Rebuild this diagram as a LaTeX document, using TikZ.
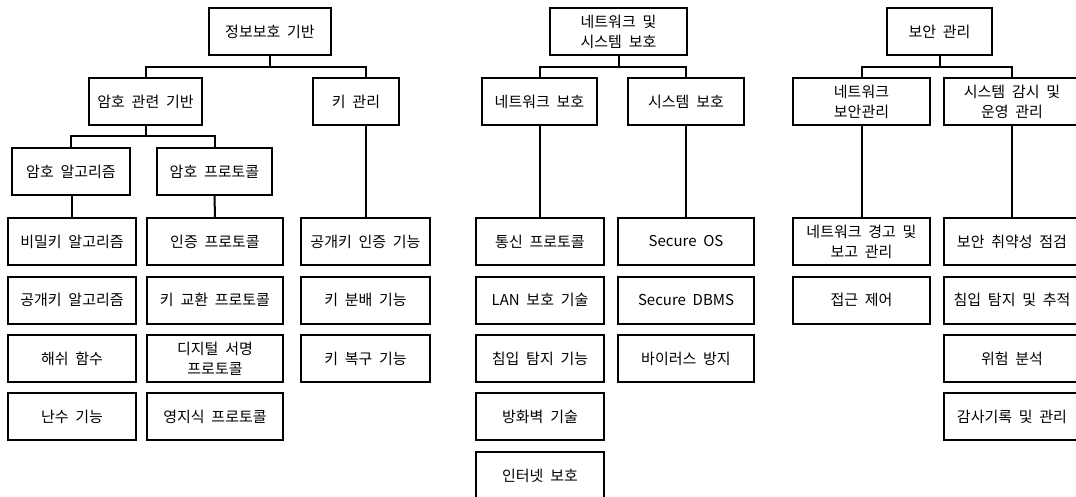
\documentclass[tikz,border=0pt]{standalone}
\usepackage{fontspec}
\setmainfont[WordSpace=2]{Noto Sans CJK KR}
\begin{document}
\begin{tikzpicture}[x=1pt,y=-1pt,
  bx/.style={draw, line width=2pt, inner sep=0pt, align=center, minimum height=47pt,
    font=\fontsize{15}{20}\selectfont},
  ln/.style={line width=2pt}]
\useasboundingbox (0,0) rectangle (1076,497);
% ---------- left tree
\node[bx, minimum width=122pt] (A0) at (270,31.5) {정보보호 기반};
\node[bx, minimum width=113pt] (A1) at (145.5,101.5) {암호 관련 기반};
\node[bx, minimum width=86pt] (A2) at (356,101.5) {키 관리};
\node[bx, minimum width=118pt] (A11) at (71,171.5) {암호 알고리즘};
\node[bx, minimum width=115pt] (A12) at (214.5,171.5) {암호 프로토콜};
\node[bx, minimum width=128pt] (L1) at (72,241.5) {비밀키 알고리즘};
\node[bx, minimum width=128pt] (L2) at (72,300) {공개키 알고리즘};
\node[bx, minimum width=128pt] (L3) at (72,358.5) {해쉬 함수};
\node[bx, minimum width=128pt] (L4) at (72,416.5) {난수 기능};
\node[bx, minimum width=136pt] (P1) at (215,241.5) {인증 프로토콜};
\node[bx, minimum width=136pt] (P2) at (215,300) {키 교환 프로토콜};
\node[bx, minimum width=136pt] (P3) at (215,358.5) {디지털 서명\\프로토콜};
\node[bx, minimum width=136pt] (P4) at (215,416.5) {영지식 프로토콜};
\node[bx, minimum width=129pt] (K1) at (365.5,241.5) {공개키 인증 기능};
\node[bx, minimum width=129pt] (K2) at (365.5,300) {키 분배 기능};
\node[bx, minimum width=129pt] (K3) at (365.5,358.5) {키 복구 기능};
\coordinate (busA) at (0,67);
\coordinate (busA2) at (0,136);
\draw[ln] (A0.south) -- (A0.south |- busA);
\draw[ln] (A1.north) -- (A1.north |- busA) -- (K1.north |- busA) -- (K1.north |- A2.north);
\draw[ln] (K1.north |- A2.south) -- (K1.north);
\draw[ln] (A1.south) -- (A1.south |- busA2);
\draw[ln] (A11.north) -- (A11.north |- busA2) -- (A12.north |- busA2) -- (A12.north);
\draw[ln] (A11.south) -- (A11.south -| L1.north) -- (L1.north);
\draw[ln] (A12.south) -- (P1.north);
% ---------- middle tree
\node[bx, minimum width=137pt] (B0) at (618.5,31.5) {네트워크 및\\시스템 보호};
\node[bx, minimum width=115pt] (B1) at (539.5,101.5) {네트워크 보호};
\node[bx, minimum width=116pt] (B2) at (686,101.5) {시스템 보호};
\node[bx, minimum width=128pt] (N1) at (540,241.5) {통신 프로토콜};
\node[bx, minimum width=128pt] (N2) at (540,300) {LAN 보호 기술};
\node[bx, minimum width=128pt] (N3) at (540,358.5) {침입 탐지 기능};
\node[bx, minimum width=128pt] (N4) at (540,416.5) {방화벽 기술};
\node[bx, minimum width=128pt] (N5) at (540,475.5) {인터넷 보호};
\node[bx, minimum width=136pt] (S1) at (686,241.5) {Secure OS};
\node[bx, minimum width=136pt] (S2) at (686,300) {Secure DBMS};
\node[bx, minimum width=136pt] (S3) at (686,358.5) {바이러스 방지};
\draw[ln] (B0.south) -- (B0.south |- busA);
\draw[ln] (B1.north) -- (B1.north |- busA) -- (B2.north |- busA) -- (B2.north);
\draw[ln] (N1.north |- B1.south) -- (N1.north);
\draw[ln] (B2.south) -- (S1.north);
% ---------- right tree
\node[bx, minimum width=105pt] (C0) at (939.5,31.5) {보안 관리};
\node[bx, minimum width=137pt] (C1) at (861.5,101.5) {네트워크\\보안관리};
\node[bx, minimum width=136pt] (C2) at (1012,101.5) {시스템 감시 및\\운영 관리};
\node[bx, minimum width=137pt] (R1) at (861.5,241.5) {네트워크 경고 및\\보고 관리};
\node[bx, minimum width=137pt] (R2) at (861.5,300) {접근 제어};
\node[bx, minimum width=136pt] (T1) at (1012,241.5) {보안 취약성 점검};
\node[bx, minimum width=136pt] (T2) at (1012,300) {침입 탐지 및 추적};
\node[bx, minimum width=136pt] (T3) at (1012,358.5) {위험 분석};
\node[bx, minimum width=136pt] (T4) at (1012,416.5) {감사기록 및 관리};
\draw[ln] (C0.south) -- (C0.south |- busA);
\draw[ln] (C1.north) -- (C1.north |- busA) -- (C2.north |- busA) -- (C2.north);
\draw[ln] (C1.south) -- (R1.north);
\draw[ln] (C2.south) -- (T1.north);
\end{tikzpicture}
\end{document}
